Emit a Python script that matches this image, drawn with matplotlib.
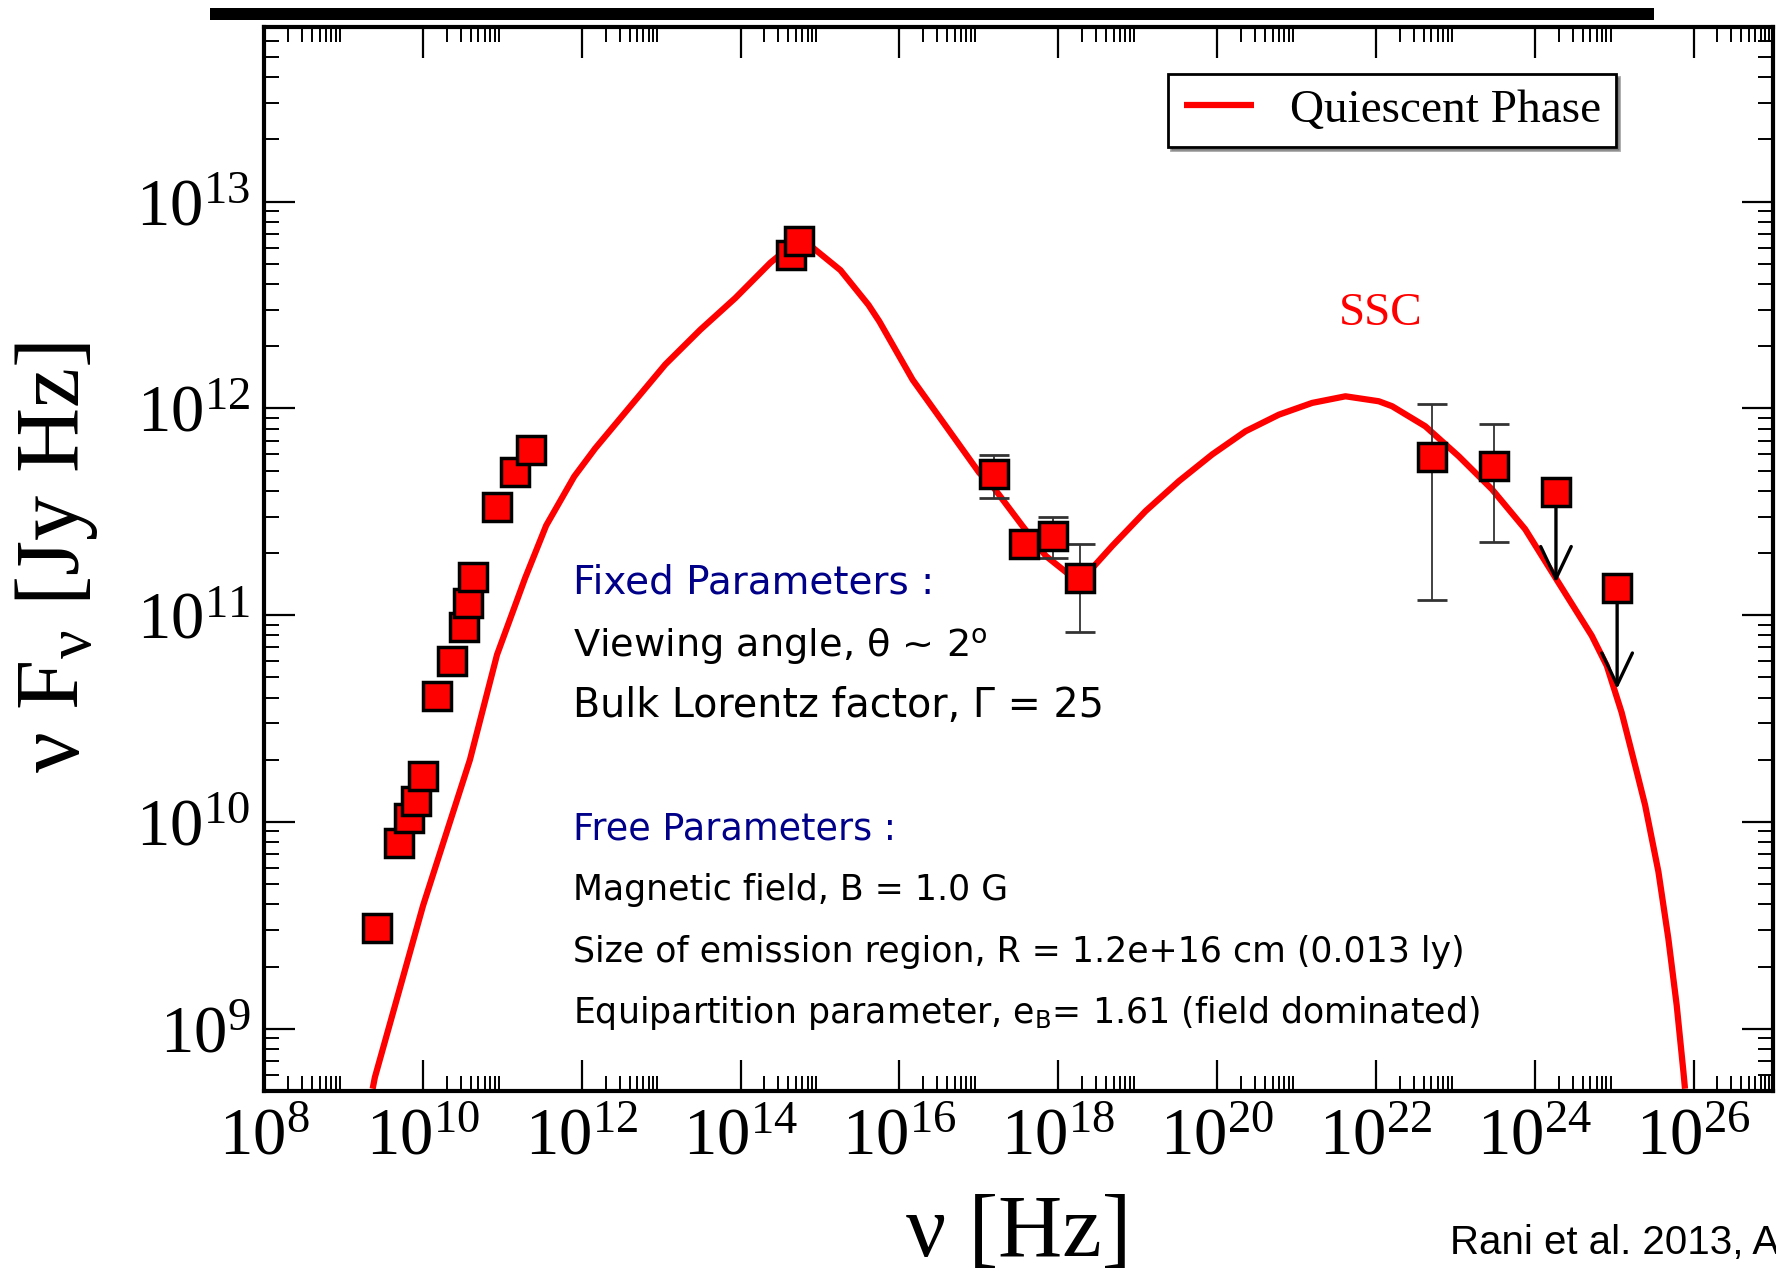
import numpy as np
import matplotlib
matplotlib.use('Agg')
import matplotlib.pyplot as plt
from matplotlib.ticker import FixedLocator, LogFormatterMathtext, NullFormatter
from matplotlib.patches import Rectangle

plt.rcParams['font.family'] = ['Liberation Serif', 'DejaVu Serif']
plt.rcParams['mathtext.fontset'] = 'custom'
plt.rcParams['mathtext.rm'] = 'Liberation Serif'
plt.rcParams['mathtext.it'] = 'Liberation Serif:italic'
plt.rcParams['mathtext.bf'] = 'Liberation Serif:bold'

# ---------------- data ----------------
radio_nu = [2.65e9, 4.99e9, 6.73e9, 8.11e9, 1.01e10, 1.50e10, 2.34e10,
            3.32e10, 3.69e10, 4.29e10, 8.51e10, 1.43e11, 2.30e11]
radio_flux = [3.06e9, 7.93e9, 1.04e10, 1.27e10, 1.66e10, 4.06e10, 6.00e10,
              8.75e10, 1.15e11, 1.53e11, 3.33e11, 4.91e11, 6.30e11]

opt_nu = [4.35e14, 5.45e14]
opt_flux = [5.53e12, 6.47e12]

xray_nu = [1.54e17, 3.74e17, 8.49e17, 1.87e18]
xray_flux = [4.82e11, 2.21e11, 2.43e11, 1.51e11]
xray_lo = [3.70e11, 2.21e11, 1.90e11, 8.30e10]
xray_hi = [5.93e11, 2.21e11, 2.99e11, 2.21e11]

gamma_nu = [5.02e22, 3.10e23]
gamma_flux = [5.82e11, 5.25e11]
gamma_lo = [1.19e11, 2.25e11]
gamma_hi = [1.05e12, 8.37e11]

ul_nu = [1.85e24, 1.09e25]
ul_flux = [3.95e11, 1.36e11]
ul_tip = [1.44e11, 4.40e10]

# SSC model curve (log10 nu, log10 nuFnu)
model_lognu = [9.368, 9.396, 10.003, 10.593, 10.934, 11.288, 11.553, 11.906,
               12.170, 12.611, 13.053, 13.494, 13.934, 14.376, 14.641, 14.906,
               15.258, 15.611, 15.748, 16.167, 16.587, 17.006, 17.172, 17.550,
               17.843, 18.264, 18.682, 19.101, 19.521, 19.940, 20.359, 20.778,
               21.198, 21.617, 22.036, 22.204, 22.622, 23.043, 23.462, 23.880,
               24.299, 24.718, 24.907, 25.094, 25.293, 25.390, 25.557, 25.682,
               25.787, 25.872, 25.892]
model_logflux = [8.710, 8.765, 9.596, 10.301, 10.809, 11.180, 11.434, 11.671,
                 11.807, 12.010, 12.213, 12.381, 12.534, 12.705, 12.788, 12.779,
                 12.669, 12.501, 12.421, 12.139, 11.914, 11.689, 11.625, 11.432,
                 11.287, 11.158, 11.336, 11.504, 11.649, 11.778, 11.890, 11.970,
                 12.027, 12.059, 12.035, 12.011, 11.914, 11.769, 11.609, 11.416,
                 11.158, 10.901, 10.756, 10.530, 10.230, 10.081, 9.760, 9.437,
                 9.115, 8.792, 8.710]

x_major = [1e8, 1e10, 1e12, 1e14, 1e16, 1e18, 1e20, 1e22, 1e24, 1e26]
y_major = [1e9, 1e10, 1e11, 1e12, 1e13]

legend_label = "Quiescent Phase"
fixed_title = "Fixed Parameters :"
fixed_lines = ["Viewing angle, \u03b8 ~ 2$^\\mathregular{o}$",
               "Bulk Lorentz factor, \u0393 = 25"]
free_title = "Free Parameters :"
free_lines = ["Magnetic field, B = 1.0 G",
              "Size of emission region, R = 1.2e+16 cm (0.013 ly)",
              "Equipartition parameter, e$_\\mathregular{B}$= 1.61 (field dominated)"]

# ---------------- figure ----------------
W, H = 1776, 1272
fig = plt.figure(figsize=(W / 100, H / 100), dpi=100)
ax = fig.add_axes([264 / W, 1 - 1091 / H, (1773 - 264) / W, (1091 - 27) / H])

ax.set_xscale('log')
ax.set_yscale('log')
ax.set_xlim(1e8, 1e27)
ax.set_ylim(5e8, 7e13)

red = '#ff0000'
model_nu = 10.0 ** np.array(model_lognu)
model_flux = 10.0 ** np.array(model_logflux)
line, = ax.plot(model_nu, model_flux, color=red, lw=4.5, zorder=2,
                solid_joinstyle='round', solid_capstyle='butt')

sq = dict(marker='s', ms=20.5, mfc=red, mec='black', mew=2.5, ls='none', zorder=5)
ebkw = dict(fmt='none', ecolor='#333333', elinewidth=1.3, capsize=11,
            capthick=2.0, zorder=3)

# error bars
xn = np.array(xray_nu); xf = np.array(xray_flux)
xl = np.array(xray_lo); xh = np.array(xray_hi)
m = (xh - xl) > 0
ax.errorbar(xn[m], xf[m], yerr=[xf[m] - xl[m], xh[m] - xf[m]], **ebkw)
gn = np.array(gamma_nu); gf = np.array(gamma_flux)
ax.errorbar(gn, gf, yerr=[gf - np.array(gamma_lo), np.array(gamma_hi) - gf], **ebkw)

# upper-limit arrows
for x, y0, y1 in zip(ul_nu, ul_flux, ul_tip):
    ax.annotate('', xy=(x, y1), xytext=(x, y0),
                arrowprops=dict(arrowstyle='->,head_length=1.05,head_width=0.5',
                                lw=2.4, color='black', shrinkA=0, shrinkB=0,
                                mutation_scale=22),
                zorder=4)

# squares
for nu, fl in [(radio_nu, radio_flux), (opt_nu, opt_flux), (xray_nu, xray_flux),
               (gamma_nu, gamma_flux), (ul_nu, ul_flux)]:
    ax.plot(nu, fl, **sq)

# ticks
ax.xaxis.set_major_locator(FixedLocator(x_major))
ax.xaxis.set_minor_locator(FixedLocator([k * v for v in x_major for k in range(2, 10)]))
ax.yaxis.set_major_locator(FixedLocator(y_major))
ax.yaxis.set_minor_locator(FixedLocator([k * 10.0 ** e for e in range(8, 14) for k in range(2, 10)]))
ax.xaxis.set_major_formatter(LogFormatterMathtext())
ax.yaxis.set_major_formatter(LogFormatterMathtext())
ax.xaxis.set_minor_formatter(NullFormatter())
ax.yaxis.set_minor_formatter(NullFormatter())
ax.tick_params(which='both', direction='in', top=True, right=True, color='black')
ax.tick_params(which='major', length=22, width=1.6, labelsize=48)
ax.tick_params(which='minor', length=11, width=1.4)
ax.tick_params(axis='x', which='major', pad=12)
ax.tick_params(axis='y', which='major', pad=10)
for s in ax.spines.values():
    s.set_linewidth(3)

# axis labels
fig.text(1019 / W, 1 - 1235 / H, "\u03bd [Hz]", fontsize=64, ha='center', va='center')
fig.text(57 / W, 1 - 558 / H, "\u03bd F$_\\mathregular{\u03bd}$ [Jy Hz]", fontsize=65,
         ha='center', va='center', rotation=90)

# legend
leg = ax.legend([line], [legend_label], loc='upper right',
                bbox_to_anchor=(0.896, 0.956), borderaxespad=0, fontsize=34,
                frameon=True, fancybox=False, edgecolor='black', handlelength=1.5,
                handletextpad=0.75, borderpad=0.32, framealpha=1, shadow=True)
leg.get_frame().set_linewidth(2)

# SSC label
ax.text(10 ** 22.06, 10 ** 12.46, "SSC", color=red, fontsize=34,
        ha='center', va='center')

# parameter text
navy = '#000088'
tx = 0.2046
sans = ['DejaVu Sans']
ax.text(tx, 0.4676, fixed_title, transform=ax.transAxes, fontsize=28,
        color=navy, family=sans, va='baseline')
for yy, s, fs in zip([0.4090, 0.3515], fixed_lines, [27.5, 28.5]):
    ax.text(tx, yy, s, transform=ax.transAxes, fontsize=fs, color='black',
            family=sans, va='baseline')
ax.text(tx, 0.2366, free_title, transform=ax.transAxes, fontsize=26.3,
        color=navy, family=sans, va='baseline')
for yy, s in zip([0.1791, 0.1215, 0.0641], free_lines):
    ax.text(tx, yy, s, transform=ax.transAxes, fontsize=25, color='black',
            family=sans, va='baseline')

# credit
fig.text(1450 / W, 1 - 1254 / H, "Rani et al. 2013, A&A", fontsize=29,
         family=['Liberation Sans'], va='baseline', ha='left')

# top black bar
fig.add_artist(Rectangle((210 / W, 1 - 20 / H), 1444 / W, 12 / H,
                         transform=fig.transFigure, color='black', lw=0))

fig.savefig('out.png', dpi=100)
